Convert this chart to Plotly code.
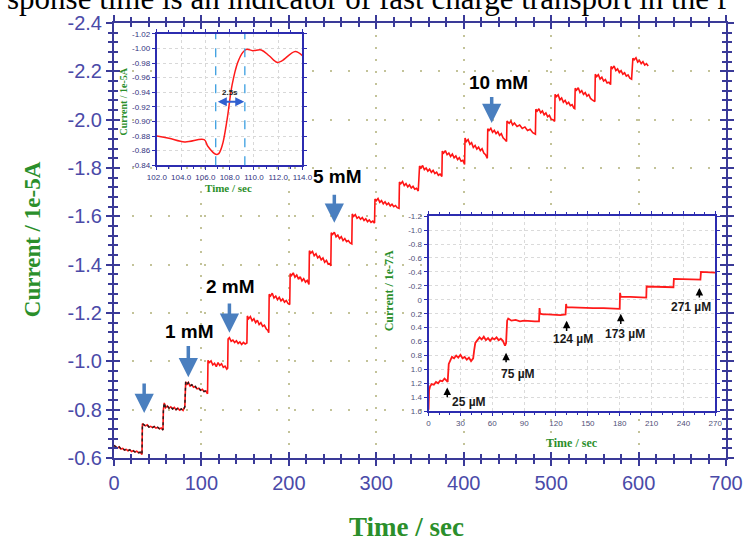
import plotly.graph_objects as go

# ---------------- main amperometric trace (current / 1e-5 A vs time / s) ----------------
t_main = [
    0, 2, 4, 6, 8, 10, 12, 14, 16, 18, 20, 22, 24, 26, 28, 30, 32,
    32.5, 34, 36, 38, 40, 42, 44, 46, 48, 50, 52, 54, 56,
    56.5, 57.5, 59, 61, 63, 65, 67, 69, 71, 73, 75, 77, 79, 81,
    82, 83.5, 85, 87, 89, 91, 93, 95, 97, 99, 101, 103, 105, 107,
    107.5, 109, 111, 113, 115, 117, 119, 121, 123, 125, 127, 129, 130,
    130.5, 132, 134, 136, 138, 140, 142, 144, 146, 148, 150, 152,
    152.5, 154, 156, 158, 160, 162, 164, 166, 168, 170, 172, 174, 176, 177,
    177.5, 179, 181, 183, 185, 187, 189, 191, 193, 195, 197, 199, 201,
    201.5, 203, 205, 207, 209, 211, 213, 215, 217, 219, 221, 223,
    223.5, 225, 227, 229, 231, 233, 235, 237, 239, 241, 243, 245, 247, 248,
    248.5, 250, 252, 254, 256, 258, 260, 262, 264, 266, 268, 270, 272,
    272.5, 274, 276, 278, 280, 282, 284, 286, 288, 290, 292, 294, 296, 298,
    298.5, 300, 302, 304, 306, 308, 310, 312, 314, 316, 318, 320, 322, 324, 326,
    326.5, 328, 330, 332, 334, 336, 338, 340, 342, 344, 346, 348,
    349.5, 351, 353, 355, 357, 359, 361, 363, 365, 367, 369, 371, 373, 375,
    375.5, 377, 379, 381, 383, 385, 387, 389, 391, 393, 395, 397, 399, 401,
    401.5, 403, 405, 407, 409, 411, 413, 415, 417, 419, 421, 423, 425, 427,
    427.5, 429, 431, 433, 435, 437, 439, 441, 443, 445, 447, 449,
    449.5, 452, 454, 456, 458, 461, 464, 467, 470, 473, 476, 479, 482,
    482.5, 484, 486, 488, 490, 492, 494, 496, 498, 500, 502, 504,
    504.5, 506, 508, 510, 512, 514, 516, 518, 520, 522, 524, 526, 527,
    527.5, 529, 531, 533, 535, 537, 539, 541, 543, 545, 547, 550,
    550.5, 552, 554, 556, 558, 560, 562, 564, 566, 568,
    568.5, 570, 572, 574, 576, 578, 580, 582, 584, 586, 588, 590, 592,
    593.5, 595, 597, 599, 601, 603, 605, 607, 609, 611,
]
i_main = [
    -0.652, -0.648, -0.641, -0.646, -0.637, -0.640, -0.633, -0.636, -0.630, -0.634, -0.627, -0.630, -0.625, -0.628, -0.622, -0.624, -0.615,
    -0.742, -0.738, -0.733, -0.737, -0.728, -0.731, -0.726, -0.730, -0.724, -0.727, -0.721, -0.724, -0.716,
    -0.800, -0.828, -0.808, -0.815, -0.806, -0.812, -0.803, -0.809, -0.800, -0.806, -0.798, -0.803, -0.797, -0.812,
    -0.915, -0.905, -0.912, -0.898, -0.903, -0.893, -0.896, -0.886, -0.889, -0.880, -0.884, -0.875, -0.877, -0.866,
    -1.004, -0.995, -1.002, -0.985, -0.992, -0.978, -0.995, -0.983, -0.990, -0.975, -0.980, -0.968, -0.972,
    -1.092, -1.098, -1.083, -1.088, -1.078, -1.085, -1.074, -1.080, -1.070, -1.078, -1.072, -1.076,
    -1.188, -1.176, -1.185, -1.168, -1.176, -1.160, -1.170, -1.152, -1.160, -1.145, -1.150, -1.135, -1.128, -1.118,
    -1.278, -1.270, -1.282, -1.262, -1.270, -1.255, -1.265, -1.250, -1.258, -1.245, -1.252, -1.240, -1.235,
    -1.362, -1.355, -1.366, -1.348, -1.357, -1.340, -1.350, -1.333, -1.342, -1.328, -1.335, -1.318,
    -1.458, -1.448, -1.455, -1.437, -1.445, -1.428, -1.435, -1.420, -1.428, -1.410, -1.418, -1.402, -1.405, -1.395,
    -1.532, -1.525, -1.534, -1.515, -1.522, -1.508, -1.516, -1.500, -1.508, -1.495, -1.500, -1.490, -1.486,
    -1.610, -1.600, -1.607, -1.592, -1.598, -1.588, -1.595, -1.583, -1.590, -1.578, -1.585, -1.575, -1.580, -1.572,
    -1.672, -1.665, -1.674, -1.658, -1.665, -1.652, -1.660, -1.648, -1.655, -1.643, -1.650, -1.640, -1.645, -1.636, -1.633,
    -1.742, -1.735, -1.744, -1.727, -1.735, -1.722, -1.730, -1.717, -1.724, -1.712, -1.716, -1.705,
    -1.808, -1.800, -1.810, -1.793, -1.800, -1.787, -1.795, -1.782, -1.790, -1.777, -1.783, -1.770, -1.775, -1.765,
    -1.870, -1.862, -1.872, -1.855, -1.862, -1.848, -1.858, -1.842, -1.850, -1.835, -1.843, -1.828, -1.832, -1.815,
    -1.924, -1.910, -1.918, -1.898, -1.905, -1.885, -1.893, -1.878, -1.886, -1.872, -1.880, -1.862, -1.855, -1.840,
    -1.962, -1.955, -1.964, -1.948, -1.956, -1.942, -1.950, -1.935, -1.942, -1.925, -1.918, -1.910,
    -1.994, -1.985, -1.994, -1.978, -1.986, -1.972, -1.978, -1.964, -1.970, -1.955, -1.960, -1.946, -1.940,
    -2.043, -2.035, -2.045, -2.028, -2.036, -2.020, -2.028, -2.012, -2.018, -2.002, -2.000, -1.993,
    -2.105, -2.095, -2.103, -2.082, -2.090, -2.072, -2.080, -2.065, -2.072, -2.058, -2.062, -2.048, -2.046,
    -2.130, -2.122, -2.132, -2.112, -2.120, -2.105, -2.112, -2.097, -2.104, -2.088, -2.082, -2.075,
    -2.188, -2.178, -2.186, -2.168, -2.176, -2.160, -2.166, -2.152, -2.155, -2.145,
    -2.220, -2.212, -2.222, -2.203, -2.210, -2.195, -2.203, -2.188, -2.194, -2.180, -2.185, -2.172, -2.168,
    -2.254, -2.248, -2.256, -2.238, -2.245, -2.232, -2.240, -2.226, -2.232, -2.222,
]
overlay_end = 107  # dark noisy overlay on the early part of the record

# main arrows and labels
arrow_x = [34.5, 85, 132, 252, 432]
arrow_tail = [-0.915, -1.070, -1.245, -1.695, -2.100]
arrow_tip = [-0.786, -0.934, -1.118, -1.573, -1.986]
label_text = ["1 mM", "2 mM", "5 mM", "10 mM"]
label_x = [86, 133, 256, 440]
label_y = [-1.125, -1.308, -1.766, -2.155]

main_xticks = [0, 100, 200, 300, 400, 500, 600, 700]
main_yticks = [-2.4, -2.2, -2.0, -1.8, -1.6, -1.4, -1.2, -1.0, -0.8, -0.6]

# ---------------- inset 1: response time zoom ----------------
t_zoom = [102.0, 103.0, 104.3, 105.9, 106.2, 106.85, 107.1, 107.4, 107.8, 108.2,
          108.67, 109.1, 109.4, 109.9, 110.6, 111.25, 111.9, 112.3, 113.4, 114.0]
i_zoom = [-0.880, -0.877, -0.872, -0.875, -0.866, -0.855, -0.856, -0.868, -0.904, -0.950,
          -0.981, -0.995, -0.999, -0.997, -0.998, -0.990, -0.981, -0.983, -0.996, -0.990]
resp_marks = [106.85, 109.25]
resp_label = "2.5s"
zoom_xticks = [102.0, 104.0, 106.0, 108.0, 110.0, 112.0, 114.0]
zoom_yticks = [-0.84, -0.86, -0.88, -0.90, -0.92, -0.94, -0.96, -0.98, -1.00, -1.02]

# ---------------- inset 2: low concentration (current / 1e-7 A) ----------------
t_low = [0, 0.5, 1.5, 3, 5, 7, 9, 11, 13, 15, 17, 18,
         19, 20, 22, 24, 26, 28, 30, 32, 34, 36, 38, 40, 42,
         43, 44, 46, 48, 50, 52, 54, 56, 58, 60, 62, 64, 66, 68, 70, 72, 73,
         74, 75, 78, 82, 86, 90, 95, 100, 104,
         104.5, 105, 108, 112, 118, 124, 129,
         129.5, 130, 135, 145, 155, 165, 175, 180,
         180.3, 181, 190, 200, 205,
         205.3, 215, 225, 230.6,
         231, 240, 250, 256,
         256.5, 263, 270]
i_low = [1.58, 1.30, 1.24, 1.21, 1.22, 1.18, 1.20, 1.16, 1.17, 1.13, 1.16, 1.18,
         0.92, 0.88, 0.82, 0.84, 0.80, 0.83, 0.79, 0.84, 0.82, 0.86, 0.83, 0.88, 0.84,
         0.72, 0.62, 0.58, 0.54, 0.57, 0.53, 0.58, 0.55, 0.59, 0.55, 0.57, 0.54, 0.58, 0.56, 0.59, 0.66, 0.62,
         0.30, 0.27, 0.30, 0.29, 0.31, 0.30, 0.31, 0.31, 0.31,
         0.12, 0.20, 0.21, 0.21, 0.22, 0.22, 0.21,
         0.06, 0.11, 0.11, 0.12, 0.12, 0.12, 0.13, 0.13,
         -0.10, -0.04, -0.04, -0.03, -0.03,
         -0.19, -0.19, -0.18, -0.18,
         -0.30, -0.30, -0.29, -0.29,
         -0.40, -0.40, -0.39]
low_arrow_x = [17.6, 73, 130, 181, 255]
low_arrow_tail = [1.42, 0.92, 0.47, 0.37, -0.01]
low_arrow_tip = [1.26, 0.76, 0.30, 0.20, -0.17]
low_label_text = ["25 \u00b5M", "75 \u00b5M", "124 \u00b5M", "173 \u00b5M", "271 \u00b5M"]
low_label_x = [20, 84.5, 136, 185, 247]
low_label_y = [1.47, 1.07, 0.565, 0.49, 0.11]
low_xticks = [0, 30, 60, 90, 120, 150, 180, 210, 240, 270]
low_yticks = [-1.2, -1.0, -0.8, -0.6, -0.4, -0.2, 0, 0.2, 0.4, 0.6, 0.8, 1.0, 1.2, 1.4, 1.6]

# ---------------- styles ----------------
AX = "#3a3a98"
TICKC = "#4a4aa8"
GREEN = "#2b8f2b"
NARROW = "Liberation Sans Narrow, Arial Narrow, Liberation Sans, Arial"
SERIF = "Liberation Serif, Times New Roman, serif"
SANS = "Liberation Sans, Arial, sans-serif"

fig = go.Figure()

fig.add_trace(go.Scatter(x=t_main, y=i_main, mode="lines",
                         line=dict(color="#ff1414", width=1.6),
                         xaxis="x", yaxis="y", hoverinfo="skip"))
ov_t = [t for t in t_main if t <= overlay_end]
ov_i = [i for t, i in zip(t_main, i_main) if t <= overlay_end]
fig.add_trace(go.Scatter(x=ov_t, y=ov_i, mode="lines",
                         line=dict(color="#202020", width=1.4, dash="dot"),
                         xaxis="x", yaxis="y", hoverinfo="skip"))
# empty trace to carry the inward-pointing tick axes of the main frame
fig.add_trace(go.Scatter(x=[], y=[], xaxis="x4", yaxis="y4", hoverinfo="skip"))

fig.add_trace(go.Scatter(x=t_zoom, y=i_zoom, mode="lines", line_shape="spline",
                         line=dict(color="#ff1a1a", width=1.5),
                         xaxis="x2", yaxis="y2", hoverinfo="skip"))

fig.add_trace(go.Scatter(x=t_low, y=i_low, mode="lines",
                         line=dict(color="#ff1a1a", width=1.8),
                         xaxis="x3", yaxis="y3", hoverinfo="skip"))

common_main = dict(showline=True, linecolor=AX, linewidth=2, mirror="allticks",
                   ticks="outside", ticklen=6, tickwidth=1.5, tickcolor=AX,
                   zeroline=False, showgrid=True, gridcolor="#c3c399", gridwidth=2,
                   tickfont=dict(family=NARROW, size=20, color=TICKC))
inner_main = dict(showline=False, mirror="allticks", ticks="inside", ticklen=6, tickwidth=1.5,
                  tickcolor=AX, zeroline=False, showgrid=False, showticklabels=False)

fig.update_layout(
    width=755, height=542,
    margin=dict(l=114, r=12, t=21, b=84),
    paper_bgcolor="white", plot_bgcolor="white",
    showlegend=False,
    xaxis=dict(domain=[0, 1], anchor="y", range=[0, 700],
               tickvals=main_xticks, ticktext=[str(v) for v in main_xticks],
               griddash="2px,10px",
               minor=dict(dtick=20, ticks="outside", ticklen=4, tickcolor=AX, showgrid=False),
               **common_main),
    yaxis=dict(domain=[0, 1], anchor="x", range=[-0.6, -2.4],
               tickvals=main_yticks, ticktext=[f"{v:.1f}" for v in main_yticks],
               griddash="2px,16px",
               minor=dict(tick0=-2.4, dtick=0.04, ticks="outside", ticklen=4, tickcolor=AX, showgrid=False),
               **common_main),
    xaxis4=dict(overlaying="x", anchor="y4", range=[0, 700], tickvals=main_xticks,
                minor=dict(dtick=20, ticks="inside", ticklen=4, tickcolor=AX, showgrid=False),
                **inner_main),
    yaxis4=dict(overlaying="y", anchor="x4", range=[-0.6, -2.4], tickvals=main_yticks,
                minor=dict(tick0=-2.4, dtick=0.04, ticks="inside", ticklen=4, tickcolor=AX, showgrid=False),
                **inner_main),
    xaxis2=dict(domain=[0.070, 0.308], anchor="y2", range=[102, 114],
                tickvals=zoom_xticks, ticktext=[f"{v:.1f}" for v in zoom_xticks],
                showline=True, linecolor="#2c2cb0", linewidth=2, mirror="allticks",
                ticks="outside", ticklen=3, tickcolor="#2c2cb0",
                minor=dict(dtick=1, ticks="outside", ticklen=2, tickcolor="#2c2cb0"),
                zeroline=False, showgrid=True, gridcolor="#d8d8d8", griddash="dot", gridwidth=1,
                tickfont=dict(family=NARROW, size=8, color="#333380")),
    yaxis2=dict(domain=[0.673, 0.975], anchor="x2", range=[-0.84, -1.02],
                tickvals=zoom_yticks, ticktext=[f"{v:.2f}" for v in zoom_yticks],
                showline=True, linecolor="#2c2cb0", linewidth=2, mirror="allticks",
                ticks="outside", ticklen=3, tickcolor="#2c2cb0",
                zeroline=False, showgrid=True, gridcolor="#d8d8d8", griddash="dot", gridwidth=1,
                tickfont=dict(family=NARROW, size=8, color="#333380")),
    xaxis3=dict(domain=[0.514, 0.9825], anchor="y3", range=[0, 270],
                tickvals=low_xticks, ticktext=[str(v) for v in low_xticks],
                showline=True, linecolor="#2c2cb0", linewidth=2, mirror="allticks",
                ticks="outside", ticklen=3, tickcolor="#2c2cb0",
                minor=dict(dtick=10, ticks="outside", ticklen=2, tickcolor="#2c2cb0"),
                zeroline=False, showgrid=True, gridcolor="#dadada", griddash="dot", gridwidth=1,
                tickfont=dict(family=NARROW, size=8, color="#505078")),
    yaxis3=dict(domain=[0.1075, 0.556], anchor="x3", range=[1.6, -1.2],
                tickvals=low_yticks,
                ticktext=["0" if v == 0 else f"{v:.1f}" for v in low_yticks],
                showline=True, linecolor="#2c2cb0", linewidth=2, mirror="allticks",
                ticks="outside", ticklen=3, tickcolor="#2c2cb0",
                zeroline=False, showgrid=True, gridcolor="#dadada", griddash="dot", gridwidth=1,
                tickfont=dict(family=NARROW, size=8, color="#505078")),
)

shapes = []
# white backgrounds for the insets (drawn in the inset subplot layers, covering the main grid)
shapes.append(dict(type="rect", xref="x2", yref="y2", x0=zoom_xticks[0], x1=zoom_xticks[-1],
                   y0=zoom_yticks[0], y1=zoom_yticks[-1], fillcolor="white",
                   line=dict(width=0), layer="below"))
shapes.append(dict(type="rect", xref="x3", yref="y3", x0=low_xticks[0], x1=low_xticks[-1],
                   y0=low_yticks[0], y1=low_yticks[-1], fillcolor="white",
                   line=dict(width=0), layer="below"))
for m in resp_marks:
    shapes.append(dict(type="line", xref="x2", yref="y2 domain", x0=m, x1=m, y0=0, y1=1,
                       line=dict(color="#3a9ee0", width=1.3, dash="dash")))
fig.update_layout(shapes=shapes)

ann = []
# top cut-off caption text from the source page
ann.append(dict(text="sponse time is an indicator of fast charge transport in the f",
                xref="paper", yref="paper", x=-0.178, y=1.012, xanchor="left", yanchor="bottom",
                showarrow=False, font=dict(family=SERIF, size=31, color="black")))
# axis titles
ann.append(dict(text="<b>Current / 1e-5A</b>", xref="paper", yref="paper", x=-0.134, y=0.503,
                xanchor="center", yanchor="middle", textangle=-90, showarrow=False,
                font=dict(family=SERIF, size=23, color=GREEN)))
ann.append(dict(text="<b>Time / sec</b>", xref="paper", yref="paper", x=0.478, y=-0.158,
                xanchor="center", yanchor="middle", showarrow=False,
                font=dict(family=SERIF, size=27, color=GREEN)))
ann.append(dict(text="<b>Current / 1e-5A</b>", xref="paper", yref="paper", x=0.016, y=0.819,
                xanchor="center", yanchor="middle", textangle=-90, showarrow=False,
                font=dict(family=SERIF, size=10, color=GREEN)))
ann.append(dict(text="<b>Time / sec</b>", xref="paper", yref="paper", x=0.1876, y=0.620,
                xanchor="center", yanchor="middle", showarrow=False,
                font=dict(family=SERIF, size=11, color=GREEN)))
ann.append(dict(text="<b>Current / 1e-7A</b>", xref="paper", yref="paper", x=0.450, y=0.384,
                xanchor="center", yanchor="middle", textangle=-90, showarrow=False,
                font=dict(family=SERIF, size=12, color=GREEN)))
ann.append(dict(text="<b>Time / sec</b>", xref="paper", yref="paper", x=0.749, y=0.034,
                xanchor="center", yanchor="middle", showarrow=False,
                font=dict(family=SERIF, size=12, color=GREEN)))

# main blue arrows
for x, ta, tp in zip(arrow_x, arrow_tail, arrow_tip):
    ann.append(dict(text="", x=x, y=tp, ax=x, ay=ta, xref="x", yref="y", axref="x", ayref="y",
                    showarrow=True, arrowhead=2, arrowsize=1.1, arrowwidth=3.5,
                    arrowcolor="#4a7fbf"))
for txt, x, y in zip(label_text, label_x, label_y):
    ann.append(dict(text=f"<b>{txt}</b>", x=x, y=y, xref="x", yref="y", showarrow=False,
                    font=dict(family=SANS, size=19, color="black")))

# inset 1 response-time marker
ann.append(dict(text="", x=resp_marks[1] - 0.05, y=-0.927, ax=resp_marks[0] + 0.05, ay=-0.927,
                xref="x2", yref="y2", axref="x2", ayref="y2", showarrow=True,
                arrowhead=2, arrowside="end+start", arrowsize=1, arrowwidth=1.8,
                arrowcolor="#3060d0"))
ann.append(dict(text=f"<b>{resp_label}</b>", x=108.05, y=-0.939, xref="x2", yref="y2",
                showarrow=False, font=dict(family=SANS, size=8, color="#222222")))

# inset 2 arrows & labels
for x, ta, tp in zip(low_arrow_x, low_arrow_tail, low_arrow_tip):
    ann.append(dict(text="", x=x, y=tp, ax=x, ay=ta, xref="x3", yref="y3", axref="x3", ayref="y3",
                    showarrow=True, arrowhead=2, arrowsize=1, arrowwidth=1.5, arrowcolor="black"))
for k, (txt, x, y) in enumerate(zip(low_label_text, low_label_x, low_label_y)):
    ann.append(dict(text=f"<b>{txt}</b>", x=x, y=y, xref="x3", yref="y3", showarrow=False,
                    xanchor="left" if k == 0 else "center",
                    font=dict(family=SANS, size=12, color="#1a1a1a")))

fig.update_layout(annotations=ann)

fig.write_html("out.html")
